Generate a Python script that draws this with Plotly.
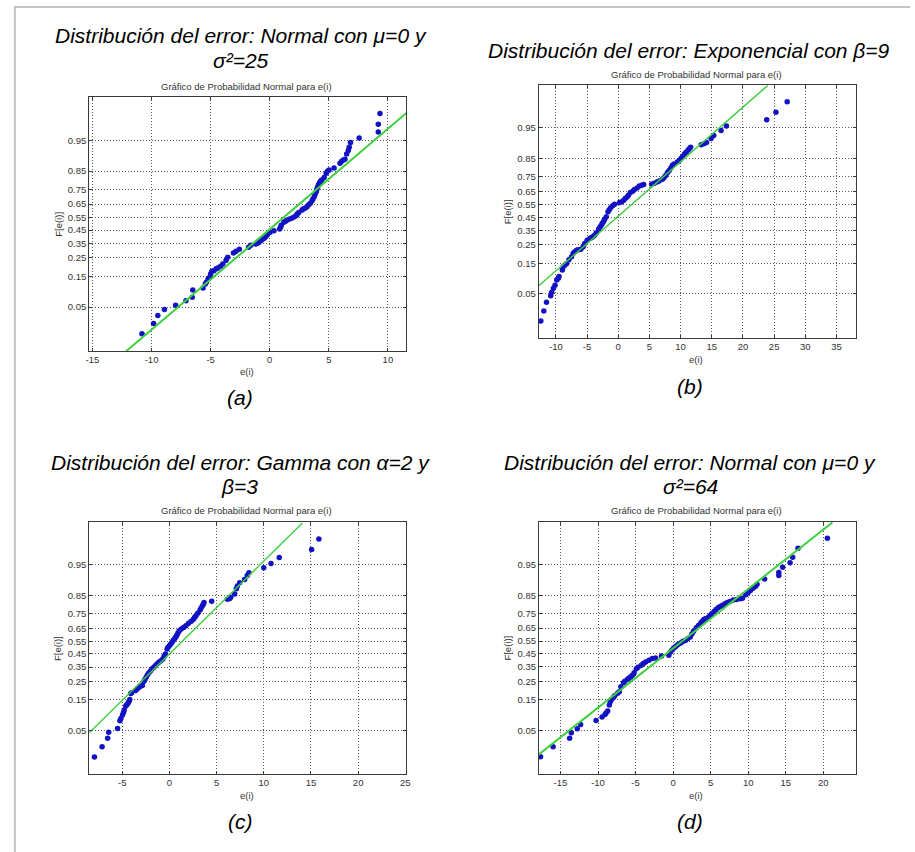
from statistics import NormalDist
import plotly.graph_objects as go

W, H = 915, 852

# ---------------- data ----------------
# x = e(i), z = normal score of F[e(i)] (position on the probability scale)
a_x = [-10.81, -9.83, -9.47, -8.91, -7.96, -7.09, -6.56, -6.51, -5.64, -5.45, -5.36, -5.22, -5.08, -5.00,
       -4.89, -4.72, -4.53, -4.39, -4.16, -3.97, -3.69, -3.55, -3.07, -2.85, -2.57, -1.79, -1.59, -1.17,
       -0.98, -0.89, -0.75, -0.61, -0.47, -0.34, -0.20, 0.03, 0.36, 0.84, 0.92, 0.98, 1.20, 1.34, 1.48,
       1.70, 1.90, 2.09, 2.26, 2.32, 2.46, 2.74, 2.82, 3.02, 3.16, 3.30, 3.44, 3.58, 3.66, 3.77, 3.85,
       3.94, 3.99, 4.05, 4.13, 4.22, 4.33, 4.41, 4.61, 4.78, 4.89, 5.03, 5.45, 5.95, 6.09, 6.23, 6.37,
       6.51, 6.65, 6.73, 6.84, 7.57, 9.19, 9.19, 9.33]
a_z = [-2.17, -1.97, -1.81, -1.69, -1.61, -1.52, -1.45, -1.31, -1.27, -1.19, -1.156, -1.09, -1.057, -0.99,
       -0.94, -0.926, -0.89, -0.873, -0.84, -0.794, -0.72, -0.66, -0.58, -0.545, -0.505, -0.466, -0.427, -0.40,
       -0.38, -0.355, -0.335, -0.309, -0.29, -0.256, -0.22, -0.171, -0.14, -0.105, -0.072, -0.03, 0.026, 0.046, 0.07,
       0.092, 0.11, 0.138, 0.16, 0.19, 0.22, 0.269, 0.29, 0.309, 0.335, 0.374, 0.40, 0.453, 0.486, 0.532, 0.585,
       0.63, 0.676, 0.716, 0.768, 0.808, 0.847, 0.86, 0.91, 0.991, 1.031, 1.057, 1.096, 1.19, 1.228, 1.254, 1.27,
       1.372, 1.44, 1.504, 1.60, 1.69, 1.806, 1.96, 2.17]
a_line_x = [-12.15, 11.62]
a_line_z = [-2.515, 2.19]

b_x = [-12.41, -11.93, -11.5, -10.82, -10.66, -10.39, -10.13, -9.86, -9.6, -9.49, -8.96, -8.8, -8.54, -8.27,
       -7.9, -7.48, -7.21, -6.95, -6.68, -6.42, -5.99, -5.62, -5.36, -4.98, -4.56, -4.29, -4.03, -3.76, -3.5,
       -3.13, -2.92, -2.7, -2.55, -2.33, -2.17, -1.91, -1.64, -1.43, -1.22, -0.9, -0.58, 0.21, 0.58, 0.9, 1.11,
       1.43, 1.64, 1.96, 2.33, 2.6, 3.02, 3.39, 3.76, 4.08, 5.36, 5.78, 6.2, 6.57, 7.1, 7.37, 7.64, 7.9, 8.17,
       8.43, 8.7, 8.96, 9.49, 9.81, 10.13, 10.39, 10.66, 10.92, 11.19, 11.4, 11.61, 13.31, 13.73, 14.16, 14.9,
       15.32, 16.49, 17.34, 23.81, 25.29, 27.09]
b_z = [-2.18, -1.98, -1.81, -1.68, -1.61, -1.533, -1.47, -1.37, -1.336, -1.30, -1.17, -1.105, -1.072, -1.04,
       -0.97, -0.91, -0.84, -0.809, -0.78, -0.77, -0.76, -0.71, -0.645, -0.58, -0.546, -0.533, -0.51, -0.48, -0.434,
       -0.36, -0.322, -0.283, -0.243, -0.204, -0.164, -0.118, -0.02, 0.02, 0.06, 0.099, 0.13, 0.164, 0.178, 0.21, 0.243,
       0.276, 0.309, 0.362, 0.388, 0.42, 0.454, 0.49, 0.507, 0.52, 0.526, 0.546, 0.57, 0.592, 0.625, 0.658, 0.704, 0.757, 0.80,
       0.849, 0.90, 0.928, 0.967, 1.0, 1.046, 1.086, 1.13, 1.164, 1.20, 1.23, 1.26, 1.31, 1.329, 1.35, 1.43,
       1.49, 1.59, 1.68, 1.80, 1.95, 2.16]
b_line_x = [-12.78, 23.97]
b_line_z = [-1.487, 2.48]

c_x = [-7.94, -7.13, -6.54, -6.43, -5.49, -5.24, -5.14, -4.97, -4.86, -4.79, -4.62, -4.51, -4.37, -4.27, -4.2,
       -4.09, -3.99, -3.57, -3.39, -3.15, -2.87, -2.69, -2.59, -2.45, -2.31, -2.17, -1.99, -1.82, -1.64, -1.47,
       -1.29, -1.12, -0.94, -0.7, -0.56, -0.42, -0.245, -0.14, 0.0, 0.14, 0.28, 0.42, 0.56, 0.7, 0.8, 0.91, 1.05,
       1.26, 1.5, 1.75, 2.03, 2.31, 2.55, 2.66, 2.8, 3.01, 3.25, 3.36, 3.5, 3.6, 3.67, 4.48, 6.15, 6.4, 6.5, 6.92,
       7.1, 7.2, 7.45, 7.97, 8.25, 8.43, 10.0, 10.77, 11.64, 15.07, 15.84]
c_z = [-2.17, -1.97, -1.80, -1.68, -1.605, -1.45, -1.408, -1.34, -1.289, -1.24, -1.16, -1.132, -1.10, -1.066, -1.03,
       -0.91, -0.895, -0.85, -0.816, -0.783, -0.75, -0.67, -0.632, -0.585, -0.539, -0.5, -0.461, -0.42, -0.388, -0.355,
       -0.322, -0.29, -0.263, -0.224, -0.171, -0.125, -0.026, 0.007, 0.04, 0.072, 0.105, 0.145, 0.184, 0.217, 0.25, 0.289, 0.335,
       0.368, 0.40, 0.434, 0.487, 0.526, 0.566, 0.599, 0.63, 0.684, 0.75, 0.789, 0.83, 0.862, 0.895, 0.92, 0.96, 0.974, 1.0, 1.066,
       1.17, 1.224, 1.29, 1.355, 1.434, 1.49, 1.585, 1.67, 1.79, 1.95, 2.16]
c_line_x = [-8.46, 14.09]
c_line_z = [-1.684, 2.474]

d_x = [-17.65, -15.98, -13.78, -13.56, -12.76, -12.32, -10.26, -9.46, -9.07, -8.93, -8.71, -8.49, -8.36, -8.19,
       -7.92, -7.75, -7.39, -7.17, -6.95, -6.6, -6.43, -6.07, -5.85, -5.63, -5.41, -5.19, -4.89, -4.67, -4.23,
       -3.96, -3.65, -3.21, -2.77, -2.33, -1.54, -0.57, -0.35, -0.13, 0.09, 0.31, 0.53, 0.75, 1.06, 1.32, 1.63,
       1.94, 2.29, 2.51, 2.73, 3.08, 3.39, 3.7, 3.92, 4.14, 4.4, 4.71, 4.93, 5.15, 5.46, 5.72, 6.03, 6.34, 6.6,
       6.91, 7.22, 7.57, 8.01, 8.45, 8.98, 9.24, 9.68, 9.99, 10.3, 10.65, 11.0, 11.18, 12.19, 14.08, 14.08, 14.6,
       15.58, 15.93, 16.64, 20.55]
d_z = [-2.17, -1.97, -1.80, -1.69, -1.61, -1.53, -1.45, -1.38, -1.33, -1.30, -1.26, -1.14, -1.078, -1.03,
       -0.986, -0.95, -0.906, -0.88, -0.78, -0.70, -0.669, -0.63, -0.603, -0.58, -0.55, -0.50, -0.42, -0.392, -0.35,
       -0.32, -0.29, -0.254, -0.22, -0.21, -0.17, -0.155, -0.09, -0.049, -0.01, 0.016, 0.043, 0.069, 0.096, 0.122, 0.14,
       0.175, 0.208, 0.267, 0.32, 0.39, 0.438, 0.49, 0.524, 0.56, 0.577, 0.60, 0.636, 0.67, 0.715, 0.755, 0.794, 0.82, 0.84,
       0.87, 0.893, 0.913, 0.94, 0.953, 0.966, 0.979, 1.045, 1.084, 1.13, 1.177, 1.216, 1.256, 1.36, 1.43, 1.49, 1.59,
       1.68, 1.79, 1.97, 2.17]
d_line_x = [-17.96, 21.21]
d_line_z = [-2.13, 2.48]

prob_ticks = [0.05, 0.15, 0.25, 0.35, 0.45, 0.55, 0.65, 0.75, 0.85, 0.95]
a_xticks = [-15, -10, -5, 0, 5, 10]
b_xticks = [-10, -5, 0, 5, 10, 15, 20, 25, 30, 35]
c_xticks = [-5, 0, 5, 10, 15, 20, 25]
d_xticks = [-15, -10, -5, 0, 5, 10, 15, 20]

titles1 = ["Distribución del error: Normal con μ=0 y",
           "Distribución del error: Exponencial con β=9",
           "Distribución del error: Gamma con α=2 y",
           "Distribución del error: Normal con μ=0 y"]
titles2 = ["σ²=25", "", "β=3", "σ²=64"]
subtitle = "Gráfico de Probabilidad Normal para e(i)"
xlabel = "e(i)"
ylabel = "F[e(i)]"
letters = ["(a)", "(b)", "(c)", "(d)"]

# ---------------- layout ----------------
nd = NormalDist()
ytickvals = [nd.inv_cdf(p) for p in prob_ticks]
yticktext = [f"{p:.2f}" for p in prob_ticks]

FONT = "Liberation Sans, Arial, sans-serif"
BLUE = "#1212c4"
GREEN = "#3fd03f"

# axes boxes in pixels: left, right, top, bottom
boxes = [(86, 406.3, 97.3, 351), (540, 860.3, 85, 337.7),
         (86, 406, 522.3, 774), (540.3, 860, 522, 774)]
xranges = [[-15.28, 11.56], [-12.75, 38.1], [-8.5, 25.07], [-17.86, 24.3]]
yrange = [-2.51, 2.49]
xticks_all = [a_xticks, b_xticks, c_xticks, d_xticks]
series = [(a_x, a_z, a_line_x, a_line_z, 2.0), (b_x, b_z, b_line_x, b_line_z, 1.4),
          (c_x, c_z, c_line_x, c_line_z, 1.4), (d_x, d_z, d_line_x, d_line_z, 2.0)]

# text positions (px)
t1_pos = [(239, 36.0), (692, 50.5), (238.5, 462), (692.5, 462)]
t2_pos = [(239, 60.5), None, (238, 486), (693, 486)]
sub_pos = [(245, 86), (699, 74), (245, 510.7), (699, 510.7)]
xl_pos = [(245, 371.7), (699, 359.3), (245, 795.7), (699, 795.7)]
yl_pos = [(54.3, 224), (508.3, 212), (54.3, 648.3), (508.3, 648.3)]
let_pos = [(238.5, 397.5), (693, 386), (238.7, 821), (693, 821.5)]

fig = go.Figure()
layout = dict(width=W, height=H, margin=dict(l=0, r=0, t=0, b=0),
              paper_bgcolor="white", plot_bgcolor="white", showlegend=False,
              font=dict(family=FONT, color="#000000"))

annotations = []
def px(x, y):
    return x / W, 1 - y / H

for i in range(4):
    n = "" if i == 0 else str(i + 1)
    l, r, t, b = boxes[i]
    axcommon = dict(showgrid=True, gridcolor="#5a5a5a", griddash="1px,2px", gridwidth=1,
                    showline=True, linecolor="#3a3a3a", linewidth=1, mirror="ticks",
                    ticks="inside", ticklen=3, tickcolor="#3a3a3a", zeroline=False,
                    tickfont=dict(family=FONT, size=9.5, color="#333333"), fixedrange=True)
    layout["xaxis" + n] = dict(axcommon, domain=[l / W, r / W], range=xranges[i],
                               anchor="y" + n, tickmode="array", tickvals=xticks_all[i],
                               ticktext=[str(v) for v in xticks_all[i]])
    layout["yaxis" + n] = dict(axcommon, domain=[1 - b / H, 1 - t / H], range=yrange,
                               anchor="x" + n, tickmode="array", tickvals=ytickvals,
                               ticktext=yticktext)
    sx, sz, lx, lz, lw = series[i]
    fig.add_trace(go.Scatter(x=sx, y=sz, mode="markers", xaxis="x" + n, yaxis="y" + n,
                             marker=dict(color=BLUE, size=5.5, line=dict(width=0)),
                             cliponaxis=True, hoverinfo="skip"))
    fig.add_trace(go.Scatter(x=lx, y=lz, mode="lines", xaxis="x" + n, yaxis="y" + n,
                             line=dict(color=GREEN, width=lw), hoverinfo="skip"))

    def ann(text, pos, size, italic=False, color="#000000", angle=0):
        x, y = px(*pos)
        annotations.append(dict(text=text, x=x, y=y, xref="paper", yref="paper",
                                xanchor="center", yanchor="middle", showarrow=False,
                                textangle=angle,
                                font=dict(family=FONT, size=size, color=color,
                                          style="italic" if italic else "normal")))
    ann(titles1[i], t1_pos[i], 21, italic=True)
    if titles2[i]:
        ann(titles2[i], t2_pos[i], 21, italic=True)
    ann(subtitle, sub_pos[i], 9.5, color="#333333")
    ann(xlabel, xl_pos[i], 9.5, color="#333333")
    ann(ylabel, yl_pos[i], 9.5, color="#333333", angle=-90)
    ann(letters[i], let_pos[i], 21, italic=True)

layout["annotations"] = annotations
layout["shapes"] = [
    dict(type="line", xref="paper", yref="paper", x0=11 / W, x1=1, y0=1 - 7 / H, y1=1 - 7 / H,
         line=dict(color="#c4c4c4", width=2)),
    dict(type="line", xref="paper", yref="paper", x0=11 / W, x1=11 / W, y0=1 - 6 / H, y1=0,
         line=dict(color="#c4c4c4", width=2)),
]
fig.update_layout(**layout)
fig.write_html("out.html")
